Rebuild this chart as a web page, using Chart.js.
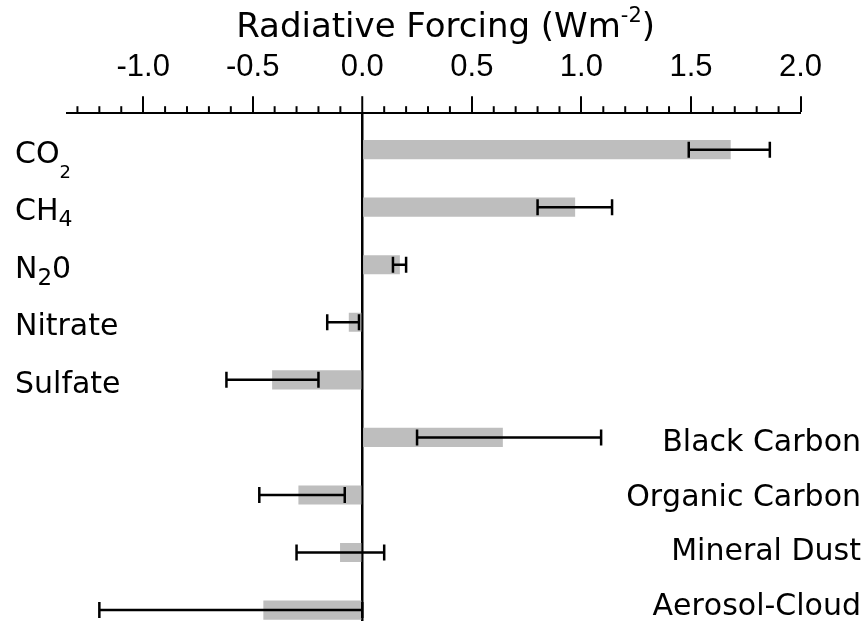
<!DOCTYPE html>
<html>
<head>
<meta charset="utf-8">
<script src="https://cdn.jsdelivr.net/npm/chart.js@4/dist/chart.umd.min.js"></script>
<style>
  html, body { margin: 0; padding: 0; background: #fff; overflow: hidden; }
  #wrap { width: 867px; height: 621px; position: relative; }
</style>
</head>
<body>
<div id="wrap"><canvas id="forcing-chart"></canvas></div>
<script>
// Row labels ("_x" marks a subscript character)
const categories = ['CO_2', 'CH_4', 'N_20', 'Nitrate', 'Sulfate',
    'Black Carbon', 'Organic Carbon', 'Mineral Dust', 'Aerosol-Cloud'];
// Best estimate (bar) and uncertainty range (whiskers), W m-2
const forcing = [1.68, 0.97, 0.17, -0.06, -0.41, 0.64, -0.29, -0.10, -0.45];
const rangeLow = [1.49, 0.80, 0.14, -0.16, -0.62, 0.25, -0.47, -0.30, -1.20];
const rangeHigh = [1.86, 1.14, 0.20, -0.015, -0.20, 1.09, -0.08, 0.10, 0.00];
const tickValues = [-1.0, -0.5, 0.0, 0.5, 1.0, 1.5, 2.0];
const titleMain = 'Radiative Forcing (Wm';
const titleSup = '-2';
const titleEnd = ')';

const labelFont = '"DejaVu Sans", Verdana, sans-serif';

// subscript size / drop per row (px)
const subStyle = { 0: [18, 15], 1: [22, 6], 2: [23, 7] };

function drawRowLabel(ctx, text, xPos, yBase, align, idx) {
    const parts = [];
    for (let k = 0; k < text.length; k++) {
        if (text[k] === '_') { parts.push({ t: text[k + 1], sub: true }); k++; }
        else parts.push({ t: text[k], sub: false });
    }
    const st = subStyle[idx] || [20, 7];
    let w = 0;
    parts.forEach(p => {
        ctx.font = (p.sub ? st[0] : 30) + 'px ' + labelFont;
        p.w = ctx.measureText(p.t).width;
        w += p.w;
    });
    let cx = align === 'right' ? xPos - w : xPos;
    ctx.textAlign = 'left';
    ctx.textBaseline = 'alphabetic';
    parts.forEach(p => {
        ctx.font = (p.sub ? st[0] : 30) + 'px ' + labelFont;
        ctx.fillText(p.t, cx, yBase + (p.sub ? st[1] : 0));
        cx += p.w;
    });
}

const decorPlugin = {
    id: 'decor',
    afterDatasetsDraw(chart) {
        const { ctx } = chart;
        const x = chart.scales.x, y = chart.scales.y;
        ctx.save();
        ctx.strokeStyle = '#000';
        ctx.lineWidth = 2.5;
        forcing.forEach((v, i) => {
            const yc = y.getPixelForValue(i);
            const x1 = x.getPixelForValue(rangeLow[i]);
            const x2 = x.getPixelForValue(rangeHigh[i]);
            ctx.beginPath();
            ctx.moveTo(x1, yc); ctx.lineTo(x2, yc);
            ctx.moveTo(x1, yc - 8); ctx.lineTo(x1, yc + 8);
            ctx.moveTo(x2, yc - 8); ctx.lineTo(x2, yc + 8);
            ctx.stroke();
        });
        ctx.restore();
    },
    afterDraw(chart) {
        const { ctx, chartArea } = chart;
        const x = chart.scales.x, y = chart.scales.y;
        ctx.save();
        // minor ticks every 0.1
        ctx.strokeStyle = '#000';
        ctx.lineWidth = 2;
        for (let k = Math.ceil(x.min * 10); k <= Math.floor(x.max * 10); k++) {
            if (k % 5 === 0) continue;
            const px = x.getPixelForValue(k / 10);
            ctx.beginPath();
            ctx.moveTo(px, chartArea.top);
            ctx.lineTo(px, chartArea.top - 7);
            ctx.stroke();
        }
        // axis title with superscript
        ctx.fillStyle = '#000';
        ctx.textBaseline = 'alphabetic';
        ctx.textAlign = 'left';
        ctx.font = '34px ' + labelFont;
        const wMain = ctx.measureText(titleMain).width;
        ctx.font = '21px ' + labelFont;
        const wSup = ctx.measureText(titleSup).width;
        ctx.font = '34px ' + labelFont;
        const wEnd = ctx.measureText(titleEnd).width;
        let tx = (chartArea.left + chartArea.right) / 2 + 12 - (wMain + wSup + wEnd) / 2;
        ctx.fillText(titleMain, tx, 37);
        tx += wMain;
        ctx.font = '21px ' + labelFont;
        ctx.fillText(titleSup, tx, 22);
        tx += wSup;
        ctx.font = '34px ' + labelFont;
        ctx.fillText(titleEnd, tx, 37);
        // row labels: gases on the left, aerosols on the right (slightly tighter spacing)
        const rightTop = y.getPixelForValue(5) + 14;
        categories.forEach((c, i) => {
            if (i < 5) drawRowLabel(ctx, c, 15, y.getPixelForValue(i) + 13, 'left', i);
            else drawRowLabel(ctx, c, 861, rightTop + (i - 5) * 54.5, 'right', i);
        });
        ctx.restore();
    }
};

const ctx = document.getElementById('forcing-chart').getContext('2d');
const forcingChart = new Chart(ctx, {
    type: 'bar',
    data: {
        datasets: [{
            data: forcing.map((v, i) => ({ x: v, y: i })),
            backgroundColor: '#bebebe',
            borderWidth: 0,
            barThickness: 18.5
        }]
    },
    options: {
        indexAxis: 'y',
        responsive: true,
        maintainAspectRatio: false,
        animation: false,
        layout: { padding: { top: 39, left: 66.7, right: 66.5, bottom: 0 } },
        plugins: { legend: { display: false }, tooltip: { enabled: false } },
        scales: {
            x: {
                type: 'linear',
                position: 'top',
                min: -1.349,
                max: 2.0,
                afterBuildTicks: scale => {
                    scale.ticks = tickValues.map(v => ({ value: v }));
                },
                ticks: {
                    autoSkip: false,
                    maxRotation: 0,
                    padding: 10,
                    color: '#000',
                    font: { family: '"Liberation Sans", Arial, sans-serif', size: 31 },
                    callback: v => Number(v).toFixed(1)
                },
                grid: {
                    drawOnChartArea: true,
                    color: c => (c.tick && c.tick.value === 0 ? '#000' : 'rgba(0,0,0,0)'),
                    lineWidth: c => (c.tick && c.tick.value === 0 ? 2.5 : 0),
                    tickLength: 17,
                    tickWidth: 2,
                    tickColor: '#000'
                },
                border: { display: true, color: '#000', width: 2 }
            },
            y: {
                type: 'linear',
                display: false,
                reverse: true,
                offset: false,
                min: -0.633,
                max: 8.19
            }
        }
    },
    plugins: [decorPlugin]
});
</script>
</body>
</html>
